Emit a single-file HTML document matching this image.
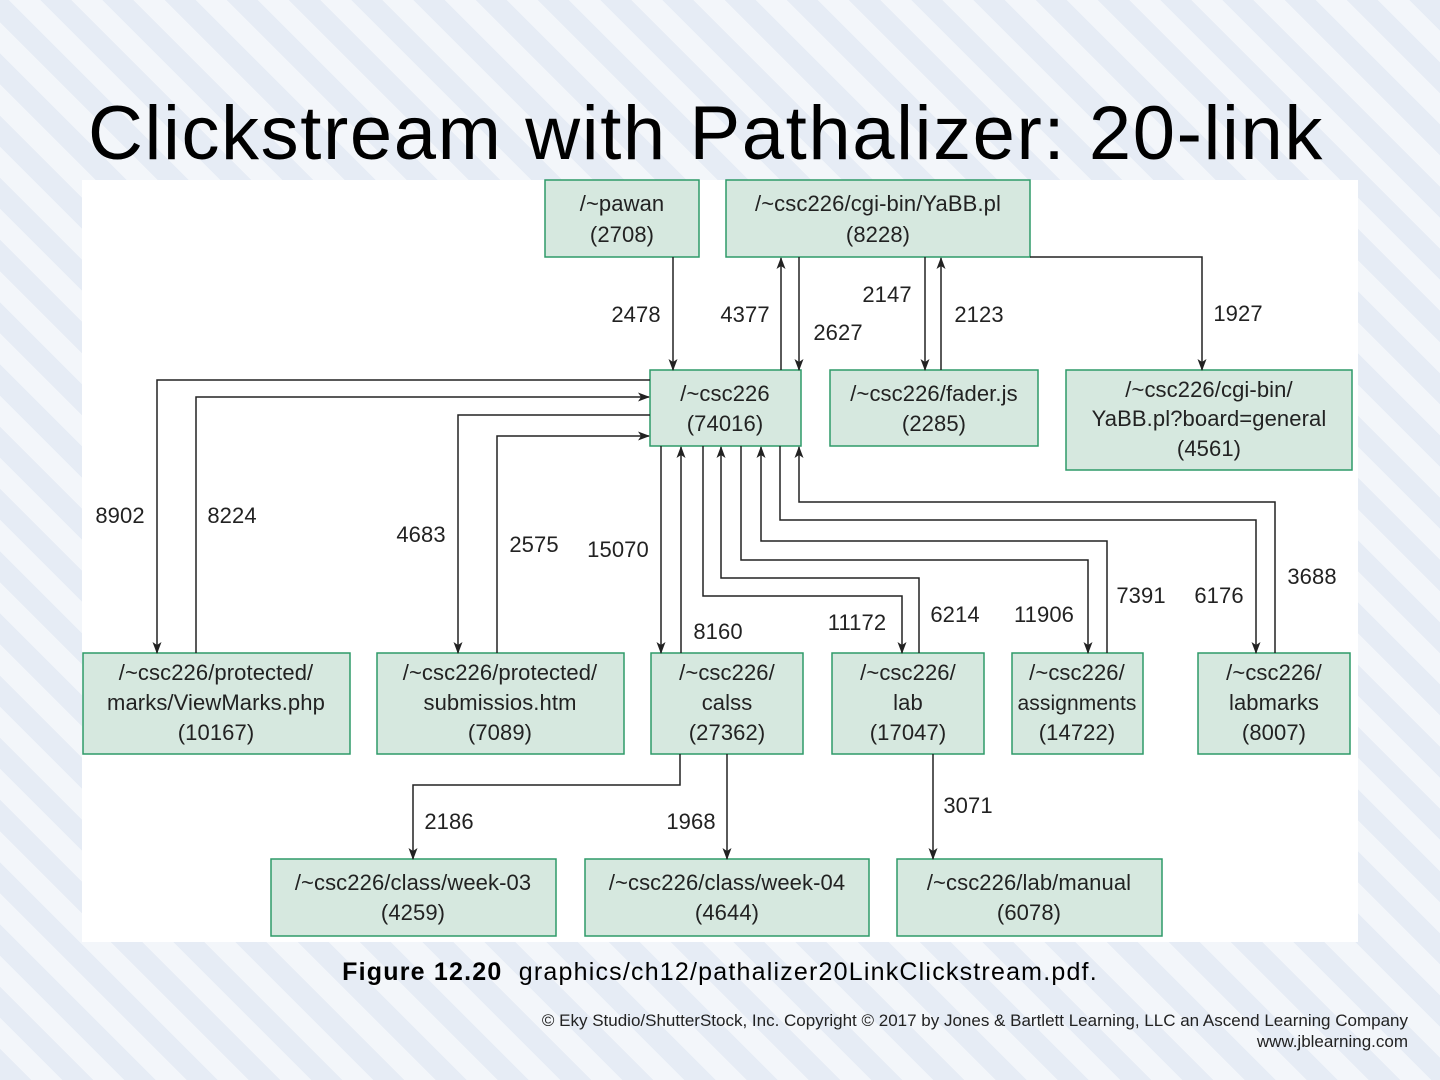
<!DOCTYPE html>
<html><head><meta charset="utf-8"><style>
html,body{margin:0;padding:0}
body{width:1440px;height:1080px;overflow:hidden;position:relative;font-family:"Liberation Sans",sans-serif;
background:repeating-linear-gradient(45deg,#e6ecf5 0 22px,#f3f6fa 22px 44px);}
.title{position:absolute;left:88px;top:96px;font-size:76px;letter-spacing:1.6px;color:#000;white-space:nowrap;line-height:1}
.cap{position:absolute;left:0;width:1440px;top:958px;text-align:center;font-size:25px;letter-spacing:1.2px}
.copy{position:absolute;right:32px;top:1010px;text-align:right;font-size:17px;line-height:21px;color:#222}
svg{position:absolute;left:0;top:0}
</style></head><body>
<div class="title">Clickstream with Pathalizer: 20-link</div>
<svg width="1440" height="1080" viewBox="0 0 1440 1080" font-family="Liberation Sans, sans-serif">
<defs><marker id="a" markerWidth="12" markerHeight="12" refX="11" refY="6" orient="auto" markerUnits="userSpaceOnUse"><path d="M0,1.5 L12,6 L0,10.5 L3,6 z" fill="#222"/></marker></defs>
<rect x="82" y="180" width="1276" height="762" fill="#fff"/>
<g fill="#d6e8df" stroke="#2e9a68" stroke-width="1.5">
<rect x="545" y="180" width="154" height="77"/><rect x="726" y="180" width="304" height="77"/>
<rect x="650" y="370" width="151" height="76"/><rect x="830" y="370" width="208" height="76"/>
<rect x="1066" y="370" width="286" height="100"/>
<rect x="83" y="653" width="267" height="101"/><rect x="377" y="653" width="247" height="101"/>
<rect x="651" y="653" width="152" height="101"/><rect x="832" y="653" width="152" height="101"/>
<rect x="1012" y="653" width="131" height="101"/><rect x="1198" y="653" width="152" height="101"/>
<rect x="271" y="859" width="285" height="77"/><rect x="585" y="859" width="284" height="77"/>
<rect x="897" y="859" width="265" height="77"/>
</g>
<g fill="none" stroke="#222" stroke-width="1.5" marker-end="url(#a)">
<path d="M673,257V370"/><path d="M781,370V258"/><path d="M799,257V370"/>
<path d="M925,257V370"/><path d="M941,370V258"/><path d="M1030,257H1202V370"/>
<path d="M650,380H157V653"/><path d="M196,653V397H649"/>
<path d="M650,415H458V653"/><path d="M497,653V436H649"/>
<path d="M661,446V653"/><path d="M681,653V447"/>
<path d="M703,446V596H902V653"/><path d="M919,653V578H721V447"/>
<path d="M741,446V560H1088V653"/><path d="M1107,653V541H761V447"/>
<path d="M780,446V520H1256V653"/><path d="M1275,653V502H799V447"/>
<path d="M680,754V785H413V859"/><path d="M727,754V859"/><path d="M933,754V859"/>
</g>
<g font-size="22" fill="#222" text-anchor="middle" letter-spacing="0.1">
<text x="622" y="211">/~pawan</text><text x="622" y="242">(2708)</text>
<text x="878" y="211">/~csc226/cgi-bin/YaBB.pl</text><text x="878" y="242">(8228)</text>
<text x="725" y="401">/~csc226</text><text x="725" y="431">(74016)</text>
<text x="934" y="401">/~csc226/fader.js</text><text x="934" y="431">(2285)</text>
<text x="1209" y="397">/~csc226/cgi-bin/</text><text x="1209" y="426">YaBB.pl?board=general</text><text x="1209" y="456">(4561)</text>
<text x="216" y="680">/~csc226/protected/</text><text x="216" y="710">marks/ViewMarks.php</text><text x="216" y="740">(10167)</text>
<text x="500" y="680">/~csc226/protected/</text><text x="500" y="710">submissios.htm</text><text x="500" y="740">(7089)</text>
<text x="727" y="680">/~csc226/</text><text x="727" y="710">calss</text><text x="727" y="740">(27362)</text>
<text x="908" y="680">/~csc226/</text><text x="908" y="710">lab</text><text x="908" y="740">(17047)</text>
<text x="1077" y="680">/~csc226/</text><text x="1077" y="710" font-size="21">assignments</text><text x="1077" y="740">(14722)</text>
<text x="1274" y="680">/~csc226/</text><text x="1274" y="710">labmarks</text><text x="1274" y="740">(8007)</text>
<text x="413" y="890">/~csc226/class/week-03</text><text x="413" y="920">(4259)</text>
<text x="727" y="890">/~csc226/class/week-04</text><text x="727" y="920">(4644)</text>
<text x="1029" y="890">/~csc226/lab/manual</text><text x="1029" y="920">(6078)</text>
<text x="636" y="322">2478</text><text x="745" y="322">4377</text><text x="838" y="340">2627</text>
<text x="887" y="302">2147</text><text x="979" y="322">2123</text><text x="1238" y="321">1927</text>
<text x="120" y="523">8902</text><text x="232" y="523">8224</text><text x="421" y="542">4683</text>
<text x="534" y="552">2575</text><text x="618" y="557">15070</text><text x="718" y="639">8160</text>
<text x="857" y="630">11172</text><text x="955" y="622">6214</text><text x="1044" y="622">11906</text>
<text x="1141" y="603">7391</text><text x="1219" y="603">6176</text><text x="1312" y="584">3688</text>
<text x="449" y="829">2186</text><text x="691" y="829">1968</text><text x="968" y="813">3071</text>
</g>
</svg>
<div class="cap"><b>Figure 12.20</b>&nbsp; graphics/ch12/pathalizer20LinkClickstream.pdf.</div>
<div class="copy">© Eky Studio/ShutterStock, Inc. Copyright © 2017 by Jones &amp; Bartlett Learning, LLC an Ascend Learning Company<br>www.jblearning.com</div>
</body></html>
